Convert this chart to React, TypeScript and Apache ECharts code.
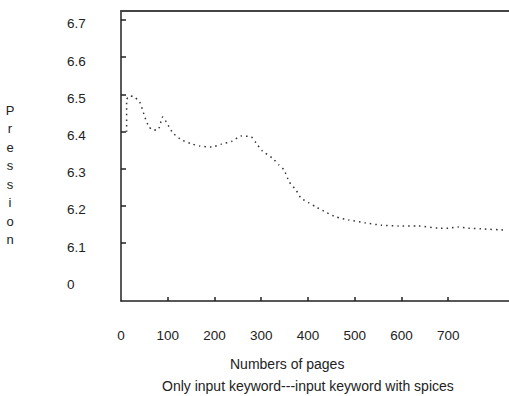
import React, { useEffect, useRef } from "react";
import * as echarts from "echarts";

const pages = [12, 12, 19, 28, 40, 51, 60, 68, 79, 87, 89, 98, 111, 130, 153, 168, 194, 215, 238, 257, 279, 289, 302, 323, 338, 349, 360, 374, 385, 402, 417, 438, 460, 487, 523, 557, 594, 636, 679, 700, 721, 743, 770, 821];
const pression = [6.399, 6.485, 6.496, 6.493, 6.479, 6.439, 6.412, 6.404, 6.404, 6.434, 6.439, 6.423, 6.396, 6.377, 6.366, 6.361, 6.358, 6.366, 6.374, 6.388, 6.385, 6.369, 6.348, 6.329, 6.31, 6.296, 6.264, 6.243, 6.221, 6.208, 6.197, 6.183, 6.17, 6.162, 6.154, 6.148, 6.146, 6.146, 6.14, 6.14, 6.143, 6.14, 6.138, 6.135];

const xTickValues = [100, 200, 300, 400, 500, 600, 700];
const xLabelValues = [0, 100, 200, 300, 400, 500, 600, 700];
const yTickValues = [6.1, 6.2, 6.3, 6.4, 6.5, 6.6, 6.7];
const yLabelValues = [6.0, 6.1, 6.2, 6.3, 6.4, 6.5, 6.6, 6.7];
const yLabelTexts = ["0", "6.1", "6.2", "6.3", "6.4", "6.5", "6.6", "6.7"];

const xTitle = "Numbers of pages";
const subTitle = "Only input keyword---input keyword with spices";
const yTitle = "Pression";

const FONT = '"Liberation Sans", Arial, sans-serif';
const INK = "#222";

export default function App() {
  const ref = useRef<HTMLDivElement>(null);
  useEffect(() => {
    if (!ref.current) return;
    const chart = echarts.init(ref.current, null, { renderer: "svg" });
    chart.setOption({
      animation: false,
      backgroundColor: "#fff",
      textStyle: { fontFamily: FONT },
      title: [
        { text: xTitle, left: 230, top: 357, padding: 0, textStyle: { fontSize: 14, fontWeight: "normal", color: INK, fontFamily: FONT } },
        { text: subTitle, left: 162, top: 379, padding: 0, textStyle: { fontSize: 14, fontWeight: "normal", color: INK, fontFamily: FONT } },
      ],
      graphic: [
        {
          type: "text",
          x: 10,
          y: 101,
          style: {
            text: yTitle.split("").join("\n"),
            textAlign: "center",
            textVerticalAlign: "top",
            lineHeight: 18.5,
            fontSize: 13,
            fill: INK,
            fontFamily: FONT,
          },
        },
      ],
      grid: { left: 121, right: -2, top: 11, bottom: 95 },
      xAxis: [
        {
          type: "value",
          min: 0,
          max: 830,
          splitLine: { show: false },
          axisLine: { show: true, onZero: false, lineStyle: { color: INK, width: 1.5 } },
          axisTick: { show: true, inside: true, length: 4, customValues: xTickValues, lineStyle: { color: INK, width: 1.5 } },
          axisLabel: { customValues: xLabelValues, margin: 27, fontSize: 13.5, color: INK, fontFamily: FONT },
        },
        {
          type: "value",
          position: "top",
          min: 0,
          max: 830,
          splitLine: { show: false },
          axisLine: { show: true, onZero: false, lineStyle: { color: "#444", width: 2 } },
          axisTick: { show: false },
          axisLabel: { show: false },
        },
      ],
      yAxis: {
        type: "value",
        min: 5.944,
        max: 6.724,
        splitLine: { show: false },
        axisLine: { show: true, onZero: false, lineStyle: { color: INK, width: 1.5 } },
        axisTick: { show: true, inside: true, length: 5, customValues: yTickValues, lineStyle: { color: INK, width: 1.5 } },
        axisLabel: {
          customValues: yLabelValues,
          align: "left",
          verticalAlign: "top",
          lineHeight: 8,
          margin: 54,
          fontSize: 13.5,
          color: INK,
          fontFamily: FONT,
          formatter: (v: number) => {
            const i = yLabelValues.findIndex((t) => Math.abs(t - v) < 1e-6);
            return i >= 0 ? yLabelTexts[i] : "";
          },
        },
      },
      series: [
        {
          type: "line",
          xAxisIndex: 0,
          data: pages.map((p, i) => [p, pression[i]]),
          showSymbol: false,
          smooth: 0.2,
          lineStyle: { color: "#333", width: 1.5, type: [1.5, 4] },
        },
      ],
    });
    return () => chart.dispose();
  }, []);
  return <div ref={ref} style={{ position: "fixed", left: 0, top: 0, width: 509, height: 396 }} />;
}
